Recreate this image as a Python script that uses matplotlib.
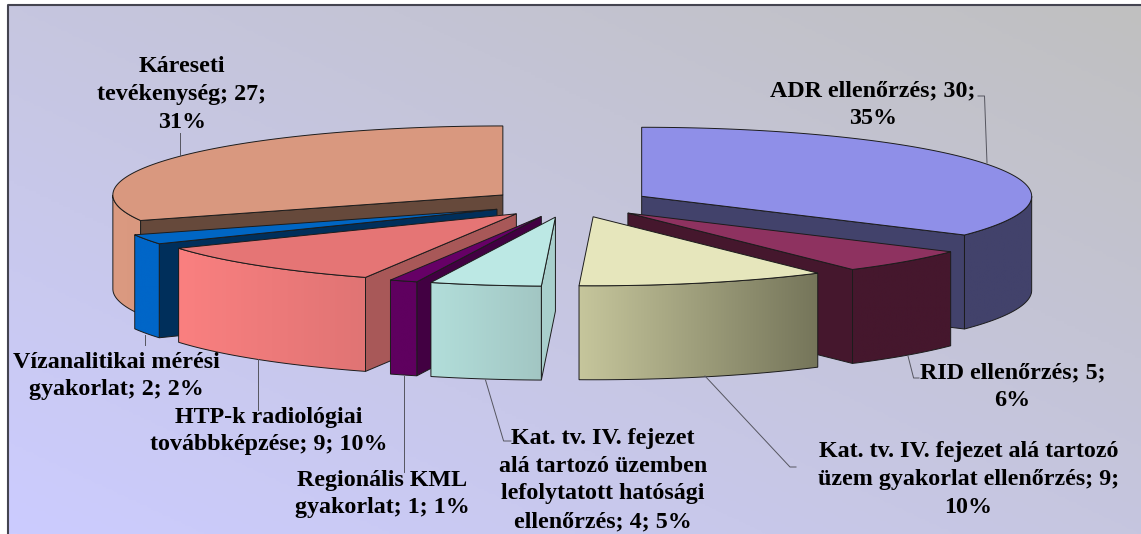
"""
Exploded 3D style pie chart of inspection and exercise counts
"""

import numpy as np
import matplotlib
matplotlib.use('Agg')
import matplotlib.pyplot as plt
from matplotlib.colors import LinearSegmentedColormap
from matplotlib.patches import Polygon

# Data, clockwise from 12 o'clock
categories = [
    'ADR ellenőrzés', 'RID ellenőrzés', 'Kat. tv. IV. fejezet alá tartozó üzem gyakorlat ellenőrzés',
    'Kat. tv. IV. fejezet alá tartozó üzemben lefolytatott hatósági ellenőrzés',
    'Regionális KML gyakorlat', 'HTP-k radiológiai továbbképzése',
    'Vízanalitikai mérési gyakorlat', 'Káreseti tevékenység',
]
values = [30, 5, 9, 4, 1, 9, 2, 27]
percents = [35, 6, 10, 5, 1, 10, 2, 31]

# Colours per slice
top_colors = ['#8F8FE8', '#8E3260', '#E6E6BC', '#BCE8E4', '#660066', '#E57575', '#0066C4', '#D9987F']
rim_left_colors = ['#42426B', '#45172D', '#C6C69C', '#B2DEDA', '#5F005F', '#FA8080', '#0066C8', '#DB9A81']
rim_right_colors = ['#42426B', '#45172D', '#75755A', '#A2C6C3', '#5F005F', '#E07474', '#0066C8', '#D9987F']
cut_colors = ['#42426B', '#45172D', '#45172D', '#A8CFCC', '#420042', '#A85858', '#002F5B', '#66493B']

# Pie geometry in pixels
CX, CY = 570, 203
RX, RY = 390, 69
DEPTH = 94
EXPLODE = 0.208
EDGE = '#1c1c1c'

# Draw order, back to front
draw_order = [0, 7, 1, 6, 5, 4, 3, 2]

labels = [
    ('ADR ellenőrzés; 30;\n35%', 873, 105),
    ('RID ellenőrzés; 5;\n6%', 1012.5, 386.5),
    ('Kat. tv. IV. fejezet alá tartozó\nüzem gyakorlat ellenőrzés; 9;\n10%', 968.5, 479.5),
    ('Kat. tv. IV. fejezet\nalá tartozó üzemben\nlefolytatott hatósági\nellenőrzés; 4; 5%', 603, 480),
    ('Regionális KML\ngyakorlat; 1; 1%', 382, 494),
    ('HTP-k radiológiai\ntovábbképzése; 9; 10%', 269, 431),
    ('Vízanalitikai mérési\ngyakorlat; 2; 2%', 116, 376),
    ('Káreseti\ntevékenység; 27;\n31%', 182, 94.5),
]

leaders = [
    [(978, 96), (984.5, 96), (987, 163)],
    [(908, 356), (913.6, 378), (919, 378)],
    [(705, 376), (790, 467), (796, 467)],
    [(485.5, 380), (503.6, 441), (511, 441)],
    [(403.6, 376), (403.6, 472)],
    [(258, 359), (258, 410)],
    [(144.7, 335), (144.7, 345)],
    [(180, 133), (180, 156)],
]


def rim_point(apex, angle):
    """Point on the top rim, angle in degrees clockwise from 12 o'clock"""
    a = np.radians(angle)
    return np.column_stack([apex[0] + RX * np.sin(a), apex[1] - RY * np.cos(a)])


def draw_background(ax):
    yy, xx = np.mgrid[0:1:200j, 0:1:300j]
    t = (xx + (1 - yy)) / 2  # 0 at bottom left, 1 at top right
    cmap = LinearSegmentedColormap.from_list('bg', ['#CCCCFF', '#C0C0C0'])
    ax.imshow(t, cmap=cmap, vmin=0, vmax=1, extent=(8, 1141, 534, 5), aspect='auto', zorder=0)
    ax.plot([8, 8, 1141], [534, 5, 5], color='#444450', lw=1.5, zorder=1)


def draw_slice(ax, idx, start, end, z):
    mid = np.radians((start + end) / 2)
    apex = (CX + EXPLODE * RX * np.sin(mid), CY - EXPLODE * RY * np.cos(mid))

    # Radial cut faces, only the ones turned towards the viewer
    visible = []
    if np.sin(np.radians(start)) < 0:
        visible.append(start)
    if np.sin(np.radians(end)) > 1e-9:
        visible.append(end)
    for angle in visible:
        p = rim_point(apex, angle)[0]
        cut = [apex, p, (p[0], p[1] + DEPTH), (apex[0], apex[1] + DEPTH)]
        ax.add_patch(Polygon(cut, closed=True, fc=cut_colors[idx], ec=EDGE, lw=0.7, zorder=z))

    # Outer wall, only the front half of the rim shows
    lo, hi = max(start, 90), min(end, 270)
    if hi > lo:
        arc = rim_point(apex, np.linspace(lo, hi, 120))
        wall = np.vstack([arc, arc[::-1] + [0, DEPTH]])
        poly = Polygon(wall, closed=True, fc='none', ec=EDGE, lw=0.7, zorder=z + 0.2)
        ax.add_patch(poly)
        cmap = LinearSegmentedColormap.from_list('rim', [rim_left_colors[idx], rim_right_colors[idx]])
        grad = np.linspace(0, 1, 256).reshape(1, -1)
        im = ax.imshow(grad, cmap=cmap, aspect='auto', zorder=z + 0.1,
                       extent=(wall[:, 0].min(), wall[:, 0].max(), wall[:, 1].max(), wall[:, 1].min()))
        im.set_clip_path(Polygon(wall, closed=True, transform=ax.transData))

    # Top face
    arc = rim_point(apex, np.linspace(start, end, 200))
    top = np.vstack([[apex], arc])
    ax.add_patch(Polygon(top, closed=True, fc=top_colors[idx], ec=EDGE, lw=0.7, zorder=z + 0.3))


def main():
    fig = plt.figure(figsize=(11.41, 5.34), dpi=100, facecolor='white')
    ax = fig.add_axes([0, 0, 1, 1])

    draw_background(ax)

    # Slice angles come from the values
    edges = np.concatenate([[0], np.cumsum(values)]) / sum(values) * 360
    for z, idx in enumerate(draw_order):
        draw_slice(ax, idx, edges[idx], edges[idx + 1], 2 + z)

    for line in leaders:
        xs, ys = zip(*line)
        ax.plot(xs, ys, color='#55555f', lw=0.7, zorder=20)

    for text, x, y in labels:
        ax.text(x, y, text, family='Liberation Serif', fontweight='bold', fontsize=17.3,
                color='black', ha='center', va='center', linespacing=1.42, zorder=21)

    ax.set_xlim(0, 1141)
    ax.set_ylim(534, 0)
    ax.axis('off')

    fig.savefig('out.png', dpi=100)


if __name__ == "__main__":
    main()
